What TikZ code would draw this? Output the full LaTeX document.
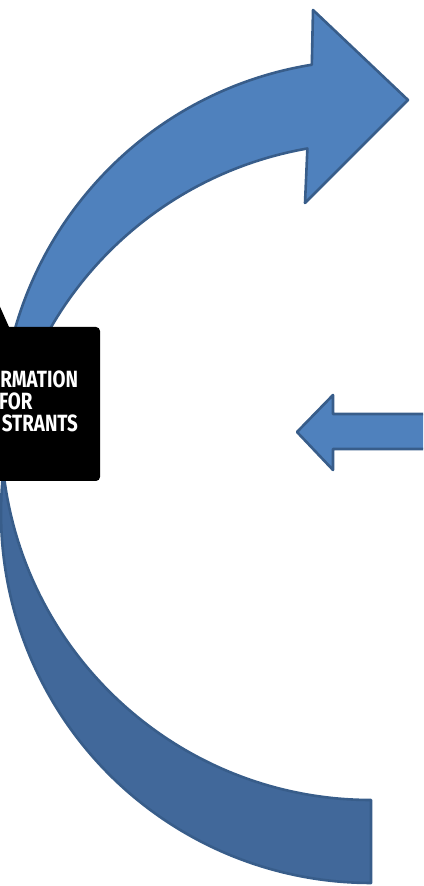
\documentclass[tikz,border=0pt]{standalone}
\usepackage{fontspec}
\newfontfamily\boxfont{Fira Sans}[FakeStretch=0.8]
\definecolor{arrowblue}{HTML}{4F81BD}
\definecolor{arrowdark}{HTML}{41689A}
\definecolor{arrowline}{HTML}{385D8A}
\begin{document}
\begin{tikzpicture}[x=1pt,y=1pt,
  band/.style={draw=arrowline,line width=2.6pt,line join=round},
  infobox/.style={fill=black,rounded corners=4pt,minimum width=168pt,minimum height=154pt,inner sep=0pt},
  boxtext/.style={text=white,align=left,text width=79pt,inner sep=0pt,
    font=\boxfont\bfseries\fontsize{23.5}{22}\selectfont}]
\path[use as bounding box] (0,0) rectangle (423,886);%画面大小
\clip (0,0) rectangle (423,886);
\coordinate (c1) at (371,456);%上弧圆心
\coordinate (c2) at (371,373);%下弧圆心
% 弯箭头的背面(深色)
\filldraw[band,fill=arrowdark] (3.4,414.9)
  arc [start angle=173.5, end angle=270, radius=370] -- (371,86)
  arc [start angle=270, end angle=186.4, radius=370] -- cycle;
% 弯箭头的正面和箭头
\filldraw[band,fill=arrowblue] (3.3,414.8)
  arc [start angle=186.4, end angle=99.2, radius=370]
  -- (313,876) -- (408,786) -- (305,683) -- (307.4,737.5)
  arc [start angle=99.9, end angle=173.5, radius=370] -- cycle;
% 左向箭头
\filldraw[band,fill=arrowblue] (440,472) -- (333,472) -- (333,491) -- (297,454)
  -- (333,416) -- (333,437) -- (440,437) -- cycle;
\fill (-3,586) -- (9,559) -- (-20,559) -- cycle;
\node[infobox] (infobox) at (16,482) {};
\node[boxtext,anchor=east] (infotext) at ([xshift=-22pt,yshift=3pt]infobox.east)
  {\hspace*{\fill}RMATION\\FOR\\\hspace*{\fill}STRANTS};
\end{tikzpicture}
\end{document}
